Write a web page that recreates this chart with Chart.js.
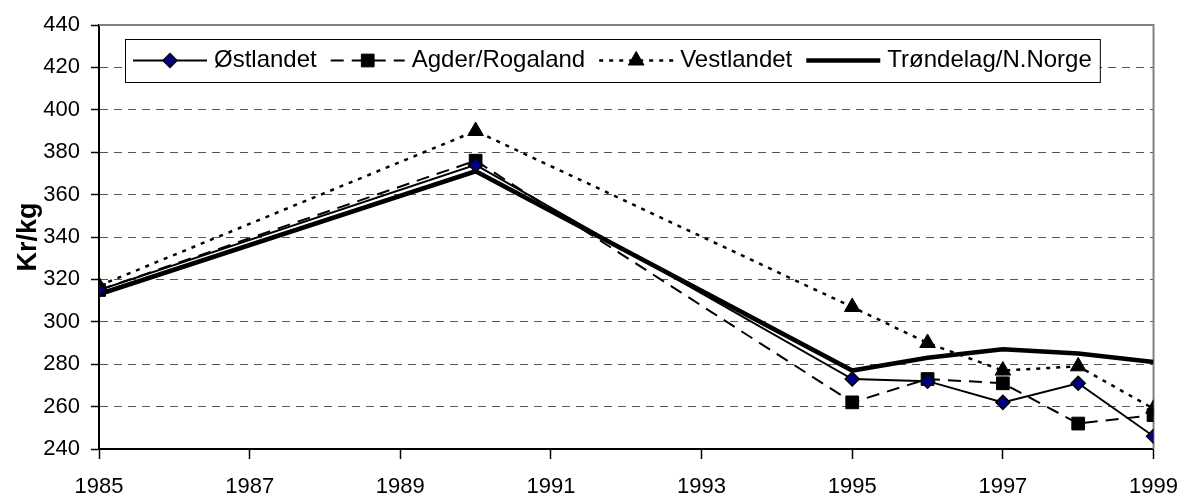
<!DOCTYPE html>
<html>
<head>
<meta charset="utf-8">
<script src="https://cdn.jsdelivr.net/npm/chart.js@4.4.0/dist/chart.umd.min.js"></script>
<style>
  html, body { margin: 0; padding: 0; background: #fff; }
</style>
</head>
<body>
<canvas id="myChart" width="1193" height="502"></canvas>
<script>
  // data
  const years = [1985, 1990, 1995, 1996, 1997, 1998, 1999];
  const ostlandet = [315, 374, 273, 272, 262, 271, 246];
  const agder = [315, 376, 262, 273, 271, 252, 256];
  const vestlandet = [317, 390, 307, 290, 277, 279, 259];
  const trondelag = [313, 371, 277, 283, 287, 285, 281];
  const xTickYears = [1985, 1987, 1989, 1991, 1993, 1995, 1997, 1999];
  const yTickValues = [240, 260, 280, 300, 320, 340, 360, 380, 400, 420, 440];

  const toPoints = arr => years.map((x, i) => ({ x: x, y: arr[i] }));

  Chart.defaults.font.family = '"Liberation Sans", Arial, sans-serif';
  Chart.defaults.color = '#000';

  // legend box drawn like the original (line sample with marker in the middle)
  const boxLegend = {
    id: 'boxLegend',
    afterDraw(chart) {
      const ctx = chart.ctx;
      const area = chart.chartArea;
      const sample = 74, gapText = 7, gapItem = 14;
      const left = area.left + 26, top = area.top + 14, h = 43;
      ctx.save();
      ctx.font = '24px "Liberation Sans", Arial, sans-serif';
      const widths = chart.data.datasets.map(ds => ctx.measureText(ds.label).width);
      let total = 8;
      widths.forEach((w, i) => { total += sample + gapText + w + (i < widths.length - 1 ? gapItem : 8); });
      ctx.fillStyle = '#fff';
      ctx.fillRect(left, top, total, h);
      ctx.strokeStyle = '#000';
      ctx.lineWidth = 1;
      ctx.setLineDash([]);
      ctx.strokeRect(left + 0.5, top + 0.5, total, h);

      const cy = top + h / 2;
      let x = left + 8;
      chart.data.datasets.forEach((ds, i) => {
        ctx.setLineDash(ds.borderDash || []);
        ctx.lineWidth = ds.borderWidth;
        ctx.strokeStyle = ds.borderColor;
        ctx.beginPath();
        ctx.moveTo(x, cy);
        ctx.lineTo(x + sample, cy);
        ctx.stroke();
        ctx.setLineDash([]);
        if (ds.pointRadius > 0) {
          ctx.fillStyle = ds.pointBackgroundColor;
          ctx.strokeStyle = ds.pointBorderColor;
          ctx.lineWidth = ds.pointBorderWidth;
          Chart.helpers.drawPoint(ctx, {
            pointStyle: ds.pointStyle,
            radius: ds.pointRadius,
            borderWidth: ds.pointBorderWidth,
            rotation: 0
          }, x + sample / 2, cy);
        }
        x += sample + gapText;
        ctx.fillStyle = '#000';
        ctx.textBaseline = 'middle';
        ctx.textAlign = 'left';
        ctx.fillText(ds.label, x, cy);
        x += widths[i] + gapItem;
      });
      ctx.restore();
    }
  };

  // grey top and right frame of the plot area
  const plotFrame = {
    id: 'plotFrame',
    beforeDatasetsDraw(chart) {
      const ctx = chart.ctx;
      const a = chart.chartArea;
      ctx.save();
      ctx.strokeStyle = '#808080';
      ctx.lineWidth = 2;
      ctx.beginPath();
      ctx.moveTo(a.left, a.top);
      ctx.lineTo(a.right, a.top);
      ctx.lineTo(a.right, a.bottom);
      ctx.stroke();
      ctx.restore();
    }
  };

  var ctx = document.getElementById('myChart');
  var myChart = new Chart(ctx, {
    type: 'line',
    data: {
      datasets: [{
        label: 'Østlandet',
        data: toPoints(ostlandet),
        borderColor: '#000',
        borderWidth: 2,
        pointStyle: 'rectRot',
        pointRadius: 7,
        pointBackgroundColor: '#000080',
        pointBorderColor: '#000',
        pointBorderWidth: 1.5
      }, {
        label: 'Agder/Rogaland',
        data: toPoints(agder),
        borderColor: '#000',
        borderWidth: 2,
        borderDash: [13, 8],
        pointStyle: 'rect',
        pointRadius: 9,
        pointBackgroundColor: '#000',
        pointBorderColor: '#000',
        pointBorderWidth: 1
      }, {
        label: 'Vestlandet',
        data: toPoints(vestlandet),
        borderColor: '#000',
        borderWidth: 2.5,
        borderDash: [4, 6],
        pointStyle: 'triangle',
        pointRadius: 9,
        pointBackgroundColor: '#000',
        pointBorderColor: '#000',
        pointBorderWidth: 1
      }, {
        label: 'Trøndelag/N.Norge',
        data: toPoints(trondelag),
        borderColor: '#000',
        borderWidth: 4.5,
        pointRadius: 0,
        pointBackgroundColor: '#000',
        pointBorderColor: '#000',
        pointBorderWidth: 0
      }]
    },
    options: {
      responsive: false,
      animation: false,
      devicePixelRatio: 1,
      layout: { padding: { left: 0, top: 25, right: 25, bottom: 0 } },
      plugins: {
        legend: { display: false },
        tooltip: { enabled: false }
      },
      elements: { line: { tension: 0 } },
      scales: {
        x: {
          type: 'linear',
          min: 1985,
          max: 1999,
          afterBuildTicks: s => { s.ticks = xTickYears.map(v => ({ value: v })); },
          afterFit: s => { s.height = 53; },
          ticks: {
            font: { size: 22 },
            padding: 15,
            callback: v => String(v)
          },
          grid: {
            drawOnChartArea: false,
            tickLength: 10,
            tickColor: '#000',
            tickWidth: 1.5
          },
          border: { color: '#000', width: 2 }
        },
        y: {
          min: 240,
          max: 440,
          afterBuildTicks: s => { s.ticks = yTickValues.map(v => ({ value: v })); },
          afterFit: s => { s.width = 99; },
          title: {
            display: true,
            text: 'Kr/kg',
            font: { size: 27, weight: 'bold' },
            padding: { top: 12, bottom: 0 }
          },
          ticks: {
            font: { size: 22 },
            padding: 11
          },
          grid: {
            color: '#555',
            lineWidth: 1,
            tickLength: 8,
            tickColor: '#000',
            tickWidth: 1.5,
            tickBorderDash: []
          },
          border: { color: '#000', width: 2, dash: [8, 6] }
        }
      }
    },
    plugins: [plotFrame, boxLegend]
  });
</script>
</body>
</html>
